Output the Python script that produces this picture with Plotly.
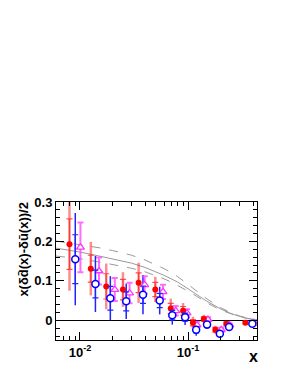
import plotly.graph_objects as go

# ---- data ----
red_x = [0.0080, 0.0126, 0.0175, 0.0250, 0.0349, 0.0498, 0.0692, 0.0900, 0.111, 0.140, 0.179, 0.226, 0.340]
red_y = [0.193, 0.131, 0.086, 0.078, 0.095, 0.078, 0.030, 0.024, -0.006, 0.003, -0.024, -0.009, -0.006]
red_stat = [0.064, 0.034, 0.032, 0.026, 0.025, 0.018, 0.013, 0.011, 0.008, 0.006, 0.006, 0.005, 0.003]
red_tot = [0.118, 0.068, 0.058, 0.044, 0.051, 0.032, 0.025, 0.020, 0.015, 0.011, 0.010, 0.008, 0.005]

blue_x = [0.00905, 0.0139, 0.0191, 0.0268, 0.0383, 0.0547, 0.0715, 0.094, 0.119, 0.150, 0.197, 0.240, 0.394]
blue_y = [0.155, 0.092, 0.056, 0.048, 0.065, 0.050, 0.013, 0.008, -0.024, -0.011, -0.034, -0.017, -0.009]
blue_stat = [0.062, 0.035, 0.030, 0.024, 0.022, 0.018, 0.012, 0.010, 0.008, 0.006, 0.006, 0.005, 0.003]
blue_tot = [0.117, 0.071, 0.056, 0.045, 0.050, 0.035, 0.024, 0.020, 0.015, 0.011, 0.010, 0.008, 0.005]

mag_x = [0.0101, 0.0150, 0.0210, 0.0288, 0.0397, 0.0587, 0.077, 0.098, 0.121, 0.153, 0.203, 0.243, 0.41]
mag_y = [0.185, 0.125, 0.078, 0.069, 0.090, 0.072, 0.024, 0.018, -0.012, 0.002, -0.024, -0.012, -0.008]
mag_err = [0.063, 0.034, 0.029, 0.026, 0.022, 0.018, 0.012, 0.010, 0.008, 0.006, 0.005, 0.004, 0.003]

curve_x = [0.006, 0.01, 0.015, 0.02, 0.03, 0.04, 0.05, 0.06, 0.07, 0.08, 0.1, 0.12, 0.15, 0.2, 0.25, 0.3, 0.35, 0.44]
curve_mid = [0.183, 0.173, 0.163, 0.156, 0.145, 0.134, 0.124, 0.114, 0.105, 0.097, 0.080, 0.066, 0.048, 0.029, 0.017, 0.010, 0.005, 0.001]
curve_up = [0.201, 0.192, 0.184, 0.177, 0.165, 0.153, 0.142, 0.131, 0.121, 0.111, 0.091, 0.074, 0.054, 0.032, 0.019, 0.011, 0.006, 0.001]
curve_lo = [0.163, 0.156, 0.148, 0.142, 0.132, 0.123, 0.114, 0.105, 0.097, 0.089, 0.074, 0.061, 0.044, 0.026, 0.016, 0.009, 0.005, 0.001]

x_tickvals = [0.01, 0.1]
x_ticktext = ["10<sup>-2</sup>", "10<sup>-1</sup>"]
x_minor = [0.006, 0.007, 0.008, 0.009, 0.02, 0.03, 0.04, 0.05, 0.06, 0.07, 0.08, 0.09, 0.2, 0.3, 0.4]
y_tickvals = [0, 0.1, 0.2, 0.3]

fig = go.Figure()

gray = "#9a9a9a"
fig.add_trace(go.Scatter(x=curve_x, y=curve_up, mode="lines", line=dict(color=gray, width=1, dash="dash")))
fig.add_trace(go.Scatter(x=curve_x, y=curve_mid, mode="lines", line=dict(color=gray, width=1)))
fig.add_trace(go.Scatter(x=curve_x, y=curve_lo, mode="lines", line=dict(color=gray, width=1, dash="dash")))

# outer (total) error bars
fig.add_trace(go.Scatter(x=red_x, y=red_y, mode="markers", marker=dict(size=1, opacity=0),
                         error_y=dict(type="data", array=red_tot, color="rgba(255,0,0,0.45)", thickness=2.5, width=0)))
fig.add_trace(go.Scatter(x=blue_x, y=blue_y, mode="markers", marker=dict(size=1, opacity=0),
                         error_y=dict(type="data", array=blue_tot, color="#2222ff", thickness=1.5, width=0)))

# inner error bars with caps + markers
fig.add_trace(go.Scatter(x=mag_x, y=mag_y, mode="markers",
                         marker=dict(symbol="triangle-up", size=7, color="white", line=dict(width=1.3, color="#ff33ff")),
                         error_y=dict(type="data", array=mag_err, color="rgba(255,60,255,0.75)", thickness=2, width=3)))
fig.add_trace(go.Scatter(x=red_x, y=red_y, mode="markers",
                         marker=dict(symbol="circle", size=6, color="#ff0000"),
                         error_y=dict(type="data", array=red_stat, color="rgba(255,40,40,0.8)", thickness=1.2, width=3)))
fig.add_trace(go.Scatter(x=blue_x, y=blue_y, mode="markers",
                         marker=dict(symbol="circle", size=7, color="white", line=dict(width=1.5, color="#0000ff")),
                         error_y=dict(type="data", array=blue_stat, color="#2222ff", thickness=1.2, width=3)))

font_b = dict(family="Liberation Sans, Arial, sans-serif", size=13, color="black", weight="bold")

fig.update_layout(
    width=300, height=388,
    margin=dict(l=48, r=51, t=194, b=56),
    paper_bgcolor="white", plot_bgcolor="white",
    showlegend=False,
    xaxis=dict(type="log", range=[-2.2218, -0.3615],
               tickmode="array", tickvals=x_tickvals, ticktext=x_ticktext,
               ticks="inside", ticklen=8, tickcolor="black", tickwidth=1,
               minor=dict(tickmode="array", tickvals=x_minor, ticks="inside", ticklen=4, tickcolor="black", showgrid=False),
               showline=True, linecolor="black", linewidth=1, mirror="ticks",
               showgrid=False, zeroline=False, tickfont=font_b),
    yaxis=dict(range=[-0.05, 0.3], tickmode="array", tickvals=y_tickvals,
               ticks="inside", ticklen=8, tickcolor="black", tickwidth=1,
               minor=dict(dtick=0.02, tick0=0, ticks="inside", ticklen=4, tickcolor="black", showgrid=False),
               showline=True, linecolor="black", linewidth=1, mirror="ticks",
               showgrid=False, zeroline=True, zerolinecolor="black", zerolinewidth=1,
               tickfont=font_b),
    annotations=[
        dict(text="x(δd̄(x)-δū(x))/2", xref="paper", yref="paper", x=-0.159, y=1.014,
             xanchor="center", yanchor="top", textangle=-90, showarrow=False,
             font=dict(family="Liberation Sans, Arial, sans-serif", size=13, color="black", weight="bold")),
        dict(text="x", xref="paper", yref="paper", x=0.985, y=-0.12,
             xanchor="center", yanchor="middle", showarrow=False,
             font=dict(family="Liberation Sans, Arial, sans-serif", size=16, color="black", weight="bold")),
    ],
)

fig.write_html("out.html")
